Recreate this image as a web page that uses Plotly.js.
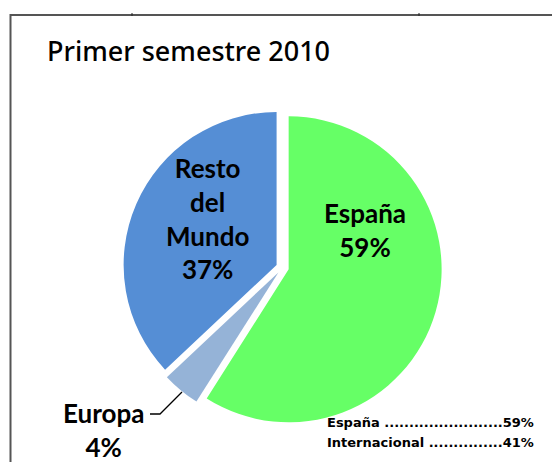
<!DOCTYPE html>
<html>
<head>
<meta charset="utf-8">
<script src="https://cdn.plot.ly/plotly-3.0.1.min.js"></script>
<style>html,body{margin:0;padding:0;background:#fff}#chart{width:552px;height:462px}</style>
</head>
<body>
<div id="chart"></div>
<script>
var labels = ['España', 'Europa', 'Resto del Mundo'];
var values = [59, 4, 37];
var colors = ['#66FF66', '#95B3D7', '#558ED5'];
var summaryLabels = ['España', 'Internacional'];
var summaryValues = [59, 41];
var chartTitle = 'Primer semestre 2010';

var total = values.reduce(function(a, b){ return a + b; }, 0);
function pct(v){ return Math.round(v / total * 100) + '%'; }

var trace = {
  type: 'pie',
  labels: labels,
  values: values,
  sort: false,
  direction: 'clockwise',
  rotation: 0,
  pull: [0.042, 0.042, 0.042],
  marker: {colors: colors, line: {width: 0}},
  textinfo: 'none',
  hoverinfo: 'label+percent',
  showlegend: false,
  domain: {x: [0.2230, 0.8005], y: [0.0760, 0.7660]}
};

var labelFont = {family: 'Lato, "Open Sans", sans-serif', size: 26, color: '#000', weight: 'bold'};
var annPos = [
  {x: 365, y: 230, anchor: 'center'},
  {x: 103, y: 430, anchor: 'center'},
  {x: 207, y: 218, anchor: 'center'}
];
var annotations = labels.map(function(l, i){
  return {
    xref: 'paper', yref: 'paper',
    x: annPos[i].x / 552, y: 1 - annPos[i].y / 462,
    xanchor: annPos[i].anchor, yanchor: 'middle',
    text: '<b>' + l.split(' ').join('<br>') + '<br>' + pct(values[i]) + '</b>',
    showarrow: false,
    font: labelFont
  };
});

var dotCounts = [24, 15];
summaryLabels.forEach(function(l, i){
  annotations.push({
    xref: 'paper', yref: 'paper',
    x: 325 / 552, y: 1 - (422 + i * 20) / 462,
    xanchor: 'left', yanchor: 'middle',
    text: '<b>' + l + ' ' + '.'.repeat(dotCounts[i]) + summaryValues[i] + '%</b>',
    showarrow: false,
    font: {family: '"DejaVu Sans", sans-serif', size: 13, color: '#000'}
  });
});

function px(x){ return x / 552; }
function py(y){ return 1 - y / 462; }
var shapes = [
  {type: 'line', xref: 'paper', yref: 'paper', x0: px(10), x1: px(552), y0: py(15), y1: py(15), line: {color: '#555', width: 2}},
  {type: 'line', xref: 'paper', yref: 'paper', x0: px(10.5), x1: px(10.5), y0: py(14), y1: py(462), line: {color: '#555', width: 2}},
  {type: 'line', xref: 'paper', yref: 'paper', x0: px(132), x1: px(132), y0: py(13), y1: py(16), line: {color: '#222', width: 1}},
  {type: 'line', xref: 'paper', yref: 'paper', x0: px(419), x1: px(419), y0: py(13), y1: py(16), line: {color: '#222', width: 1}},
  {type: 'path', xref: 'paper', yref: 'paper',
   path: 'M ' + px(150) + ' ' + py(414) + ' L ' + px(160) + ' ' + py(414) + ' L ' + px(182) + ' ' + py(392),
   line: {color: '#000', width: 1.3}}
];

var layout = {
  width: 552, height: 462,
  margin: {l: 0, r: 0, t: 0, b: 0},
  paper_bgcolor: '#fff',
  title: {text: chartTitle, x: 47 / 552, xanchor: 'left', y: 1 - 52 / 462, yanchor: 'middle',
          font: {family: '"Noto Sans", sans-serif', size: 27, color: '#000', weight: 500}},
  annotations: annotations,
  shapes: shapes
};

Plotly.newPlot('chart', [trace], layout, {displayModeBar: false, staticPlot: true});
</script>
</body>
</html>
